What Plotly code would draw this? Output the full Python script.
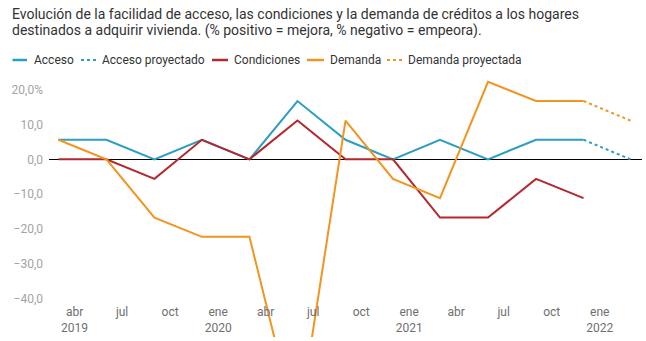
import plotly.graph_objects as go

# ---- data ----
fechas = ["2019-03-01", "2019-06-01", "2019-09-01", "2019-12-01",
          "2020-03-01", "2020-06-01", "2020-09-01", "2020-12-01",
          "2021-03-01", "2021-06-01", "2021-09-01", "2021-12-01",
          "2022-03-01"]
acceso = [5.6, 5.6, 0.0, 5.6, 0.0, 16.7, 5.6, 0.0, 5.6, 0.0, 5.6, 5.6, None]
acceso_proy = [None] * 11 + [5.6, 0.0]
condiciones = [0.0, 0.0, -5.6, 5.6, 0.0, 11.1, 0.0, 0.0, -16.7, -16.7, -5.6, -11.1, None]
demanda = [5.6, 0.0, -16.7, -22.2, -22.2, -77.8, 11.1, -5.6, -11.1, 22.2, 16.7, 16.7, None]
demanda_proy = [None] * 11 + [16.7, 11.1]

x_tickvals = ["2019-04-01", "2019-07-01", "2019-10-01", "2020-01-01",
              "2020-04-01", "2020-07-01", "2020-10-01", "2021-01-01",
              "2021-04-01", "2021-07-01", "2021-10-01", "2022-01-01"]
x_ticktext = ["abr<br>2019", "jul<br>&nbsp;", "oct<br>&nbsp;", "ene<br>2020",
              "abr<br>&nbsp;", "jul<br>&nbsp;", "oct<br>&nbsp;", "ene<br>2021",
              "abr<br>&nbsp;", "jul<br>&nbsp;", "oct<br>&nbsp;", "ene<br>2022"]
y_tickvals = [20, 10, 0, -10, -20, -30, -40]
y_ticktext = ["20,0%", "10,0", "0,0", "−10,0", "−20,0", "−30,0", "−40,0"]

titulo_lineas = [
    "Evolución de la facilidad de acceso, las condiciones y la demanda de créditos a los hogares",
    "destinados a adquirir vivienda. (% positivo = mejora, % negativo = empeora).",
]

C_ACC = "#2b9ec4"
C_CON = "#b3282d"
C_DEM = "#f0951f"

series = [
    ("Acceso", acceso, C_ACC, "solid"),
    ("Acceso proyectado", acceso_proy, C_ACC, "dot"),
    ("Condiciones", condiciones, C_CON, "solid"),
    ("Demanda", demanda, C_DEM, "solid"),
    ("Demanda proyectada", demanda_proy, C_DEM, "dot"),
]

W, H = 646, 341
ML, MR, MT, MB = 49, 4, 78, 4
PW, PH = W - ML - MR, H - MT - MB

def px2x(px):
    return (px - ML) / PW

def py2y(py):
    return (H - MB - py) / PH

fig = go.Figure()
for name, vals, col, dash in series:
    fig.add_trace(go.Scatter(x=fechas, y=vals, name=name, mode="lines",
                             line=dict(color=col, width=2, dash=dash),
                             showlegend=False, connectgaps=False))

# title (two lines)
for texto, ymid in zip(titulo_lineas, [13.8, 30.2]):
    fig.add_annotation(text=texto, xref="paper", yref="paper",
                       x=px2x(10), y=py2y(ymid), xanchor="left", yanchor="middle",
                       showarrow=False, font=dict(size=14, color="#333333"))

# compact legend (swatch + label)
leg_y = 60
leg_items = [(12.5, 27, 32), (81, 97, 100), (212, 228, 232), (307, 324, 328), (387, 403, 406)]
for (name, vals, col, dash), (x0, x1, xt) in zip(series, leg_items):
    fig.add_shape(type="line", xref="paper", yref="paper",
                  x0=px2x(x0), x1=px2x(x1), y0=py2y(leg_y), y1=py2y(leg_y),
                  line=dict(color=col, width=2.5 if dash == "solid" else 2,
                            dash=dash))
    fig.add_annotation(text=name, xref="paper", yref="paper",
                       x=px2x(xt), y=py2y(leg_y), xanchor="left", yanchor="middle",
                       showarrow=False, font=dict(size=12, color="#333333"))

fig.update_layout(
    width=W, height=H,
    margin=dict(l=ML, r=MR, t=MT, b=MB),
    paper_bgcolor="white", plot_bgcolor="white",
    font=dict(family="Roboto, sans-serif", color="#333333"),
    showlegend=False,
    xaxis=dict(type="date", range=["2019-02-11", "2022-03-23"],
               tickvals=x_tickvals, ticktext=x_ticktext,
               ticklabelposition="inside", showgrid=False, zeroline=False,
               showline=False, ticks="", tickfont=dict(size=12, color="#6f6f6f")),
    yaxis=dict(range=[-50.9, 23.3], tickvals=y_tickvals, ticktext=y_ticktext,
               showgrid=False, zeroline=True, zerolinecolor="#000000", zerolinewidth=1,
               showline=False, ticks="", ticklabelstandoff=5,
               tickfont=dict(size=12, color="#a3a3a3")),
)

fig.write_html("out.html")
